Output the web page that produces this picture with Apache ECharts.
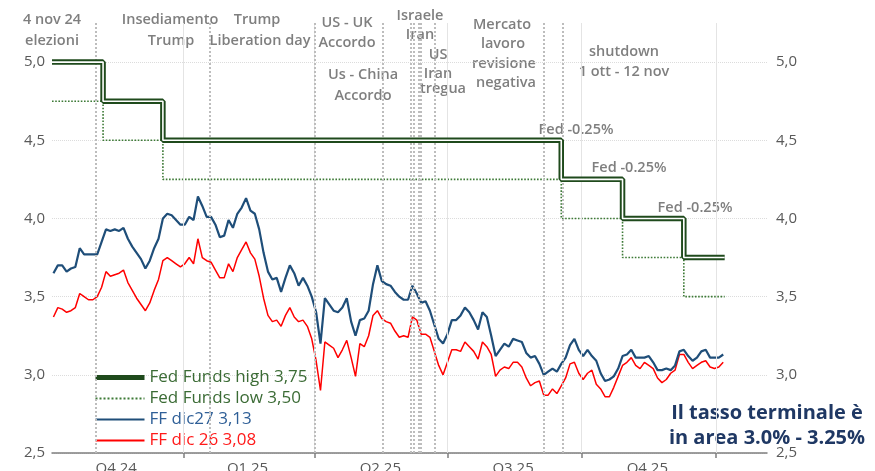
<!DOCTYPE html>
<html>
<head>
<meta charset="utf-8">
<title>Fed Funds</title>
<script src="https://cdn.jsdelivr.net/npm/echarts@6/dist/echarts.min.js"></script>
<style>
  html, body { margin: 0; padding: 0; background: #fff; }
  #chart { width: 875px; height: 471px; }
</style>
</head>
<body>
<div id="chart"></div>
<script>
// campioni ogni 3 giorni a partire dal 4 ott 2024
var sampleStart = '2024-10-04';
var sampleStepDays = 3;

var ffDic27 = [
  3.65, 3.70, 3.70, 3.66, 3.68, 3.69, 3.81, 3.77, 3.77, 3.77,
  3.77, 3.85, 3.93, 3.92, 3.93, 3.92, 3.94, 3.87, 3.82, 3.78,
  3.74, 3.68, 3.73, 3.81, 3.87, 4.00, 4.03, 4.02, 3.99, 3.96,
  3.96, 4.01, 3.99, 4.14, 4.08, 4.01, 4.01, 3.96, 3.88, 3.89,
  3.99, 3.94, 4.03, 4.07, 4.13, 4.05, 4.03, 3.93, 3.78, 3.66,
  3.61, 3.62, 3.53, 3.62, 3.70, 3.65, 3.57, 3.62, 3.57, 3.50,
  3.40, 3.20, 3.49, 3.45, 3.41, 3.40, 3.43, 3.49, 3.34, 3.25,
  3.35, 3.36, 3.41, 3.58, 3.70, 3.60, 3.58, 3.57, 3.53, 3.50,
  3.48, 3.48, 3.57, 3.52, 3.46, 3.47, 3.41, 3.32, 3.23, 3.20,
  3.26, 3.35, 3.35, 3.38, 3.43, 3.40, 3.35, 3.29, 3.40, 3.37,
  3.25, 3.12, 3.16, 3.20, 3.18, 3.23, 3.22, 3.21, 3.14, 3.11,
  3.12, 3.07, 3.00, 3.02, 3.04, 3.02, 3.07, 3.11, 3.19, 3.23,
  3.16, 3.12, 3.16, 3.12, 3.09, 3.01, 2.96, 2.97, 2.99, 3.04,
  3.12, 3.13, 3.16, 3.11, 3.11, 3.11, 3.12, 3.08, 3.03, 3.03,
  3.04, 3.03, 3.06, 3.15, 3.16, 3.12, 3.09, 3.11, 3.15, 3.16,
  3.11, 3.11, 3.11, 3.13
];

var ffDic26 = [
  3.37, 3.43, 3.42, 3.40, 3.41, 3.43, 3.52, 3.50, 3.48, 3.48,
  3.50, 3.56, 3.66, 3.63, 3.64, 3.65, 3.67, 3.59, 3.54, 3.49,
  3.45, 3.41, 3.46, 3.54, 3.61, 3.73, 3.75, 3.73, 3.71, 3.69,
  3.71, 3.75, 3.71, 3.87, 3.75, 3.73, 3.72, 3.67, 3.62, 3.62,
  3.71, 3.66, 3.75, 3.80, 3.85, 3.78, 3.74, 3.63, 3.49, 3.38,
  3.34, 3.35, 3.31, 3.38, 3.43, 3.37, 3.34, 3.35, 3.31, 3.23,
  3.09, 2.90, 3.21, 3.19, 3.17, 3.11, 3.16, 3.22, 3.11, 2.99,
  3.20, 3.18, 3.25, 3.38, 3.41, 3.36, 3.34, 3.33, 3.28, 3.24,
  3.25, 3.24, 3.37, 3.35, 3.26, 3.26, 3.24, 3.15, 3.06, 3.00,
  3.08, 3.16, 3.16, 3.15, 3.21, 3.18, 3.15, 3.10, 3.21, 3.18,
  3.13, 2.99, 3.03, 3.05, 3.04, 3.08, 3.08, 3.05, 2.98, 2.93,
  2.95, 2.96, 2.87, 2.87, 2.91, 2.88, 2.93, 2.98, 3.07, 3.08,
  3.01, 2.97, 3.01, 3.03, 2.94, 2.91, 2.86, 2.86, 2.92, 2.99,
  3.06, 3.08, 3.11, 3.06, 3.04, 3.08, 3.06, 3.04, 2.98, 2.95,
  2.97, 3.01, 3.03, 3.13, 3.13, 3.08, 3.04, 3.06, 3.08, 3.09,
  3.05, 3.04, 3.05, 3.08
];

// Fed funds (date delle decisioni)
var fedDates = ['2024-10-03', '2024-11-07', '2024-12-18', '2025-09-17', '2025-10-29', '2025-12-10', '2026-01-07'];
var fedHigh = [5.00, 4.75, 4.50, 4.25, 4.00, 3.75, 3.75];
var fedLow  = [4.75, 4.50, 4.25, 4.00, 3.75, 3.50, 3.50];

var quarterStarts = ['2025-01-01', '2025-04-01', '2025-07-01', '2025-10-01', '2026-01-01'];
var quarterMids = ['2024-11-16', '2025-02-14', '2025-05-16', '2025-08-15', '2025-11-15'];
var quarterLabels = ['Q4 24', 'Q1 25', 'Q2 25', 'Q3 25', 'Q4 25'];

var eventDates = ['2024-11-02', '2025-01-19', '2025-04-01', '2025-05-18', '2025-06-06', '2025-06-08',
                  '2025-06-11', '2025-06-13', '2025-06-22', '2025-09-05', '2025-09-18'];

var axisStart = '2024-10-03';
var axisEnd = '2026-02-05';

var legendNames = ['Fed Funds high 3,75', 'Fed Funds low 3,50', 'FF dic27 3,13', 'FF dic 26 3,08'];

// date -> millisecondi (UTC)
function ts(s) { return Date.parse(s + 'T00:00:00Z'); }
var DAY = 86400000;

var sampleTimes = ffDic27.map(function (_, i) { return ts(sampleStart) + i * sampleStepDays * DAY; });
var dic27Data = sampleTimes.map(function (t, i) { return [t, ffDic27[i]]; });
var dic26Data = sampleTimes.map(function (t, i) { return [t, ffDic26[i]]; });
var highData = fedDates.map(function (d, i) { return [ts(d), fedHigh[i]]; });
var lowData = fedDates.map(function (d, i) { return [ts(d), fedLow[i]]; });
var midTimes = quarterMids.map(ts);

var gray = '#7f7f7f';
var green = '#1f4a1c';

function yFmt(v) { return v > 5.001 ? '' : v.toFixed(1).replace('.', ','); }

var splitColors = ['#dcdcdc', '#dcdcdc', '#dcdcdc', '#dcdcdc', '#dcdcdc', '#dcdcdc', 'rgba(0,0,0,0)'];

var annotations = [
  ['4 nov 24', 52, 20], ['elezioni', 52, 41],
  ['Insediamento', 170, 20], ['Trump', 171, 41],
  ['Trump', 257, 20], ['Liberation day', 260, 41],
  ['US - UK', 347, 23], ['Accordo', 347, 43],
  ['Us - China', 363, 75], ['Accordo', 363, 96],
  ['Israele', 420, 16], ['Iran', 420, 35],
  ['US', 438, 55], ['Iran', 438, 74], ['tregua', 443, 89],
  ['Mercato', 502, 25], ['lavoro', 503, 44], ['revisione', 504, 64], ['negativa', 506, 83],
  ['shutdown', 624, 52], ['1 ott - 12 nov', 624, 72],
  ['Fed -0.25%', 576, 130], ['Fed -0.25%', 629, 168], ['Fed -0.25%', 695, 208]
];

var graphics = annotations.map(function (a) {
  return {
    type: 'text', x: a[1], y: a[2], silent: true,
    style: {
      text: a[0], fill: gray, align: 'center', verticalAlign: 'middle',
      font: '600 14.5px "Open Sans"'
    }
  };
});
graphics.push({
  type: 'text', x: 767, y: 413, silent: true,
  style: { text: 'Il tasso terminale è', fill: '#1f3864', align: 'center', verticalAlign: 'middle', font: 'bold 20px "Open Sans"' }
});
graphics.push({
  type: 'text', x: 767, y: 438, silent: true,
  style: { text: 'in area 3.0% - 3.25%', fill: '#1f3864', align: 'center', verticalAlign: 'middle', font: 'bold 20px "Open Sans"' }
});

var chart = echarts.init(document.getElementById('chart'));

var option = {
  animation: false,
  backgroundColor: '#fff',
  grid: { left: 52, right: 108, top: 23, bottom: 18, containLabel: false, outerBoundsMode: 'none' },
  legend: {
    orient: 'vertical', left: 88, top: 364,
    itemWidth: 49, itemHeight: 12, itemGap: 4,
    itemStyle: { opacity: 0 },
    textStyle: { fontSize: 17, fontFamily: 'Open Sans' },
    data: [
      { name: legendNames[0], textStyle: { color: '#3b6b35' }, lineStyle: { width: 5 } },
      { name: legendNames[1], textStyle: { color: '#3b6b35' } },
      { name: legendNames[2], textStyle: { color: '#2f5f97' } },
      { name: legendNames[3], textStyle: { color: '#ff1a1a' } }
    ]
  },
  xAxis: {
    type: 'value',
    min: ts(axisStart),
    max: ts(axisEnd),
    axisLine: { lineStyle: { color: gray, width: 1.5 } },
    axisTick: { show: true, length: 5, customValues: quarterStarts.map(ts), lineStyle: { color: gray, width: 1.5 } },
    axisLabel: {
      customValues: midTimes,
      margin: 8, fontSize: 15, fontFamily: 'Open Sans', color: '#595959',
      formatter: function (v) {
        var i = midTimes.indexOf(v);
        return i >= 0 ? quarterLabels[i] : '';
      }
    },
    splitLine: { show: false }
  },
  yAxis: [
    {
      type: 'value', min: 2.5, max: 5.25, interval: 0.5, position: 'left',
      axisLine: { show: false }, axisTick: { show: false },
      axisLabel: { formatter: yFmt, margin: 7, fontSize: 15, fontFamily: 'Open Sans', color: '#595959' },
      splitLine: { lineStyle: { color: splitColors, type: 'dotted', width: 1 } }
    },
    {
      type: 'value', min: 2.5, max: 5.25, interval: 0.5, position: 'right',
      axisLine: { show: false }, axisTick: { show: false },
      axisLabel: { formatter: yFmt, margin: 9, fontSize: 15, fontFamily: 'Open Sans', color: '#595959' },
      splitLine: { show: false }
    }
  ],
  series: [
    {
      name: legendNames[1], type: 'line', step: 'end', data: lowData, symbol: 'none', z: 2,
      lineStyle: { color: '#3d7a36', width: 1.6, type: 'dotted' },
      itemStyle: { color: '#3d7a36' },
      markLine: {
        silent: true, symbol: 'none', label: { show: false },
        data: quarterStarts.map(function (d) {
          return { xAxis: ts(d), lineStyle: { color: '#e4e4e4', width: 1, type: 'solid' } };
        }).concat(eventDates.map(function (d) {
          return { xAxis: ts(d), lineStyle: { color: '#bdbdbd', width: 2, type: 'dotted' } };
        }))
      }
    },
    {
      name: legendNames[3], type: 'line', data: dic26Data, symbol: 'none', z: 3,
      lineStyle: { color: '#ff0000', width: 1.5 }, itemStyle: { color: '#ff0000' }
    },
    {
      name: legendNames[2], type: 'line', data: dic27Data, symbol: 'none', z: 4,
      lineStyle: { color: '#1f4e79', width: 2.2 }, itemStyle: { color: '#1f4e79' }
    },
    {
      name: legendNames[0], type: 'line', step: 'end', data: highData, symbol: 'none', z: 5,
      lineStyle: { color: green, width: 5.5 }, itemStyle: { color: green }
    },
    {
      name: 'high centro', type: 'line', step: 'end', data: highData, symbol: 'none', z: 6,
      lineStyle: { color: '#ffffff', width: 1.6 }, itemStyle: { color: '#ffffff' }, silent: true
    }
  ],
  graphic: graphics
};

chart.setOption(option);
window.addEventListener('resize', function () { chart.resize(); });
</script>
</body>
</html>
